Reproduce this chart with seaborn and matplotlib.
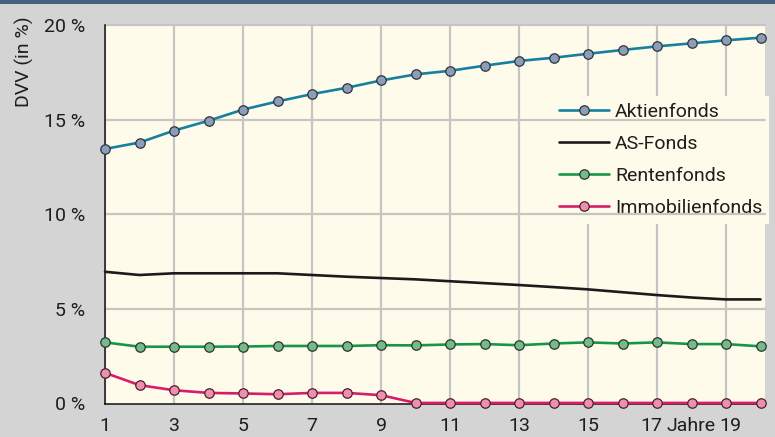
import matplotlib
matplotlib.use("Agg")
import matplotlib.pyplot as plt
import matplotlib.transforms as mtransforms
import seaborn as sns
from matplotlib.patches import Rectangle

# data
years = list(range(1, 21))
aktienfonds = [13.45, 13.79, 14.42, 14.94, 15.53, 15.96, 16.35, 16.68, 17.07, 17.39,
               17.58, 17.85, 18.10, 18.27, 18.48, 18.68, 18.87, 19.03, 19.19, 19.33]
as_fonds = [6.96, 6.79, 6.88, 6.88, 6.88, 6.88, 6.79, 6.70, 6.63, 6.56,
            6.46, 6.36, 6.26, 6.15, 6.03, 5.88, 5.73, 5.60, 5.50, 5.50]
rentenfonds = [3.23, 3.00, 3.00, 3.00, 3.01, 3.04, 3.04, 3.04, 3.08, 3.07,
               3.12, 3.14, 3.08, 3.17, 3.23, 3.17, 3.23, 3.14, 3.14, 3.02]
immobilienfonds = [1.62, 0.97, 0.70, 0.56, 0.53, 0.49, 0.56, 0.56, 0.44, 0.03,
                   0.03, 0.03, 0.03, 0.03, 0.03, 0.03, 0.03, 0.03, 0.03, 0.03]
x_ticks = [1, 3, 5, 7, 9, 11, 13, 15, 17, 19]
y_ticks = [0, 5, 10, 15, 20]
y_ticklabels = ["0 %", "5 %", "10 %", "15 %", "20 %"]
x_unit = "Jahre"

BG = "#d5d4d4"
PLOT_BG = "#fffbea"
GRID = "#c6c5c3"
TXT = "#1e1e1e"

sns.set_style("white")
plt.rcParams["font.family"] = ["Roboto", "DejaVu Sans"]

fig = plt.figure(figsize=(7.75, 4.37), dpi=100, facecolor=BG)
ax = fig.add_axes([105 / 775, 1 - 403.5 / 437, 660 / 775, 378.5 / 437])
ax.set_facecolor(PLOT_BG)

# top band
fig.patches.append(Rectangle((0, 1 - 3.5 / 437), 1, 3.5 / 437, transform=fig.transFigure,
                             facecolor="#44627f", edgecolor="none"))

series = [
    ("Aktienfonds", aktienfonds, "#15809f", "#8c9db6", "#2a3442", "o"),
    ("AS-Fonds", as_fonds, "#1b1b1b", None, None, ""),
    ("Rentenfonds", rentenfonds, "#17964a", "#78b88a", "#233a2a", "o"),
    ("Immobilienfonds", immobilienfonds, "#d91c6a", "#ee8fae", "#4a2030", "o"),
]
for name, vals, col, mfc, mec, mk in series:
    kws = dict(marker=mk, markersize=6.8, markeredgewidth=0.9)
    if mk:
        kws.update(markerfacecolor=mfc, markeredgecolor=mec)
    sns.lineplot(x=years, y=vals, ax=ax, color=col, linewidth=1.9, label=name,
                 zorder=3, clip_on=False, **kws)

ax.set_xlim(1, 20.13)
ax.set_ylim(0, 20)

# grid: vertical lines under the legend, horizontal ones above it
ax.set_axisbelow(True)
ax.grid(axis="x", which="major", color=GRID, linewidth=1.6)
ax.grid(axis="x", which="minor", visible=False)
ax.grid(axis="y", visible=False)
for yv in y_ticks[1:]:
    ax.axhline(yv, color=GRID, linewidth=1.6, zorder=1.5, clip_on=False)

ax.set_xticks(x_ticks)
ax.set_xticklabels([str(v) for v in x_ticks])
ax.set_xticks([18], minor=True)
ax.set_xticklabels([x_unit], minor=True)
ax.set_yticks(y_ticks)
ax.set_yticklabels(y_ticklabels)
ax.tick_params(axis="x", which="both", length=0, pad=9.5, labelsize=14, labelcolor=TXT)
ax.tick_params(axis="y", length=11.5, width=1.6, color=GRID, pad=3,
               labelsize=14, labelcolor=TXT)
ax.set_xlabel("")
ax.set_ylabel("")

# make room for "Jahre" between 17 and 19
for tick, dx in zip(ax.xaxis.get_major_ticks()[-2:], (-6, 4)):
    lbl = tick.label1
    lbl.set_transform(lbl.get_transform()
                      + mtransforms.ScaledTranslation(dx / 100, 0, fig.dpi_scale_trans))

for side in ["top", "right"]:
    ax.spines[side].set_visible(False)
ax.spines["left"].set_color("#111111")
ax.spines["left"].set_linewidth(1.1)
ax.spines["bottom"].set_color("#111111")
ax.spines["bottom"].set_linewidth(1.1)

fig.text(24 / 775, 1 - 62 / 437, "DVV (in %)", rotation=90, ha="center", va="center",
         fontsize=14, color=TXT)

leg = ax.legend(loc="upper left", bbox_to_anchor=(552 / 775, 1 - 96 / 437),
                bbox_transform=fig.transFigure, frameon=True, facecolor=PLOT_BG,
                edgecolor="none", framealpha=1, fancybox=False, fontsize=14,
                handlelength=2.6, handletextpad=0.3, labelspacing=0.72,
                borderpad=0.35, borderaxespad=0)
leg.set_zorder(1)
for t in leg.get_texts():
    t.set_color(TXT)

fig.savefig("out.png", dpi=100, facecolor=BG)
